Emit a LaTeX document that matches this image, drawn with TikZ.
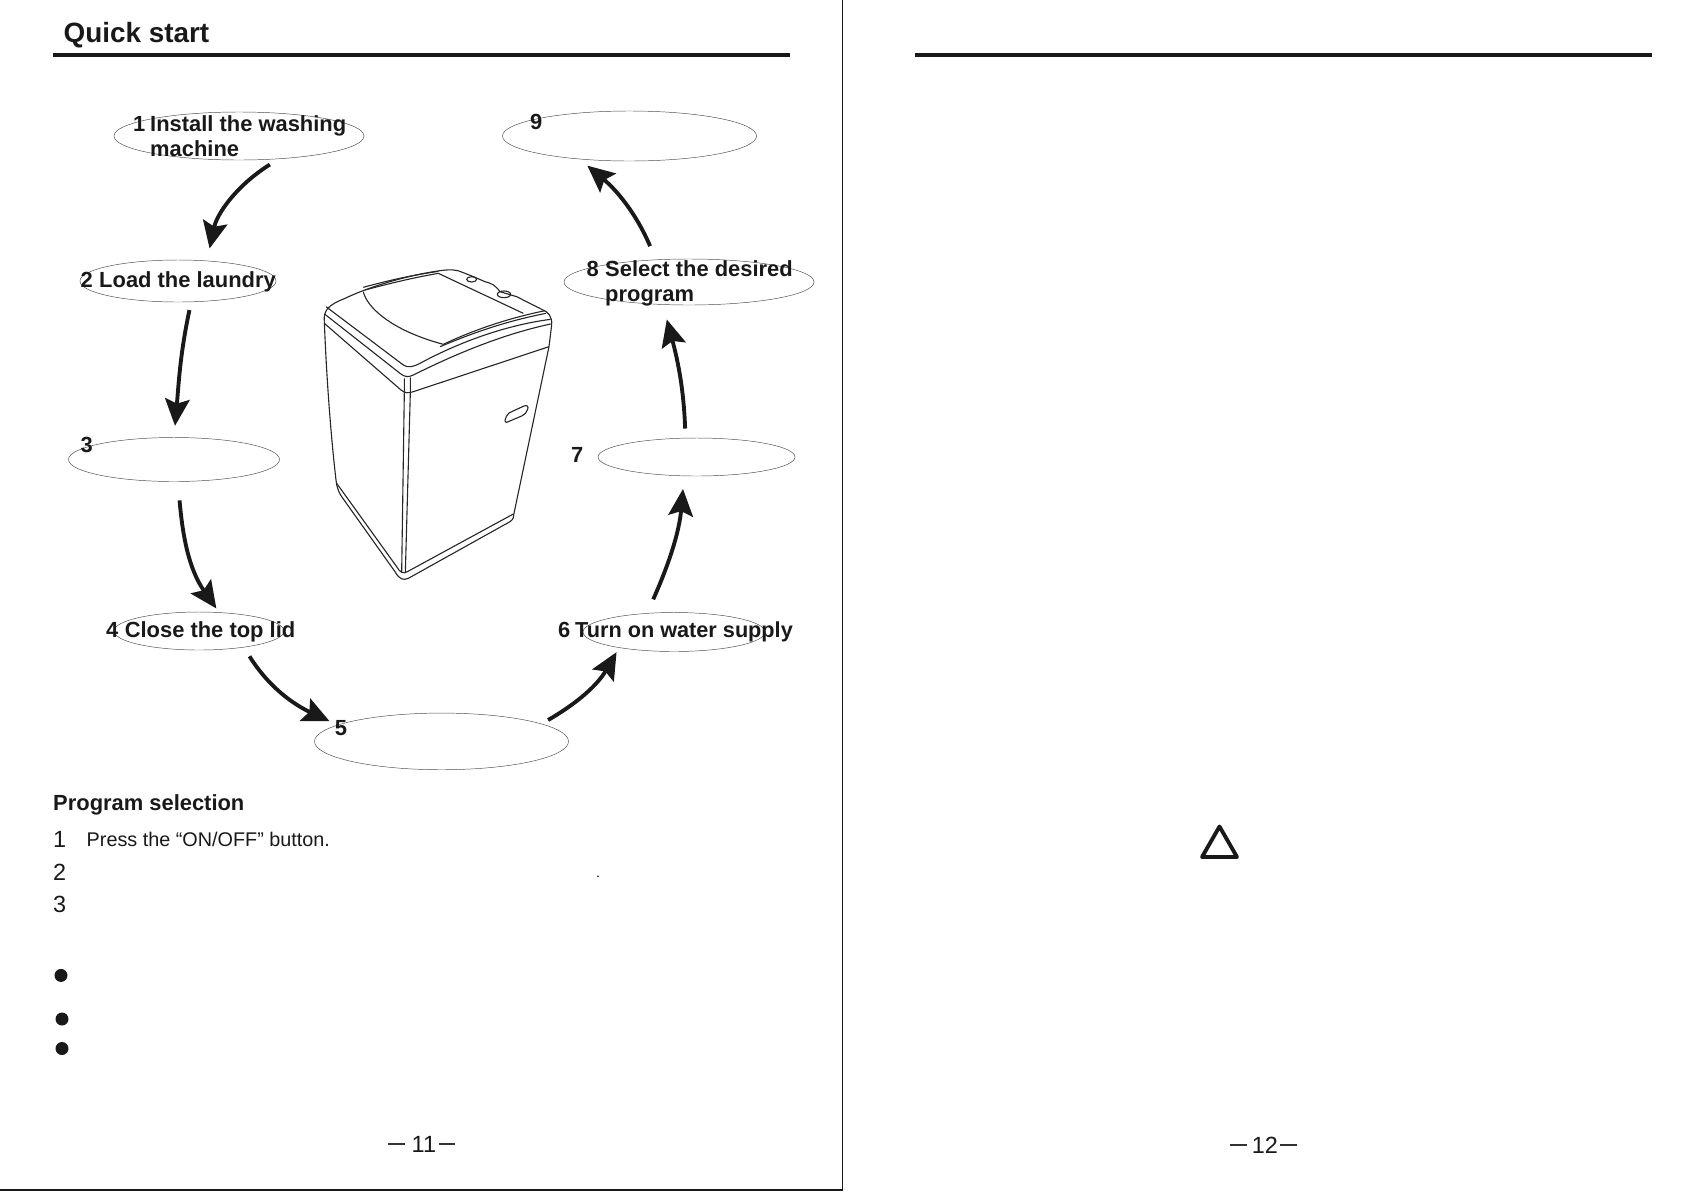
\documentclass[tikz,border=0pt]{standalone}
\usepackage{fontspec}
\setmainfont{Liberation Sans}
\usetikzlibrary{positioning,shapes.geometric,arrows.meta}

\begin{document}
\begin{tikzpicture}[x=0.03cm,y=-0.03cm]
    \tikzstyle{oval}=[ellipse, draw=black!70, line width=0.4pt, inner sep=0pt]
    \tikzstyle{lab}=[anchor=base west, inner sep=0pt, text=black!90, font=\fontsize{18.7}{22}\bfseries\selectfont]
    \tikzstyle{plain}=[anchor=base west, inner sep=0pt, text=black!90, font=\fontsize{16.9}{20}\selectfont]
    \tikzstyle{numb}=[anchor=base west, inner sep=0pt, text=black!90, font=\fontsize{20}{22}\selectfont]
    \tikzstyle{flow}=[line width=3.3pt, black!90, -{Stealth[length=23pt,width=21pt,inset=4pt]}]
    \tikzstyle{hrule}=[line width=3.4pt, black!90]
    \tikzstyle{edge}=[line width=1.1pt, black!90]
    \tikzstyle{bull}=[circle, fill=black!90, inner sep=0pt, minimum size=0.39cm]
    \tikzstyle{tick}=[line width=1.1pt, black!80]
    \tikzstyle{mach}=[line width=0.95pt, black!85, line join=round]
    \useasboundingbox (0,0) rectangle (1684,1191);

    % page frame and header rules
    \coordinate (frameT) at (842.3,0);
    \coordinate (frameC) at (842.3,1190);
    \coordinate (frameL) at (0,1190);
    \draw[edge] (frameT) -- (frameC) -- (frameL);
    \coordinate (ruleA) at (53,55);
    \coordinate (ruleB) at (790,55);
    \coordinate (ruleC) at (915,55);
    \coordinate (ruleD) at (1652,55);
    \draw[hrule] (ruleA) -- (ruleB);
    \draw[hrule] (ruleC) -- (ruleD);
    \node[lab, font=\fontsize{23.8}{28}\bfseries\selectfont] (title) at (63.4,42) {Quick start};

    % the ovals
    \node[oval, minimum width=7.5cm, minimum height=1.44cm] (e1) at (239,136) {};
    \node[oval, minimum width=5.88cm, minimum height=1.26cm] (e2) at (178,281) {};
    \node[oval, minimum width=6.33cm, minimum height=1.32cm] (e3) at (174,459.5) {};
    \node[oval, minimum width=5.1cm, minimum height=1.14cm] (e4) at (199,631) {};
    \node[oval, minimum width=7.62cm, minimum height=1.7cm] (e5) at (441.5,741.4) {};
    \node[oval, minimum width=5.46cm, minimum height=1.17cm] (e6) at (674,632) {};
    \node[oval, minimum width=5.91cm, minimum height=1.14cm] (e7) at (696.5,457) {};
    \node[oval, minimum width=7.5cm, minimum height=1.38cm] (e8) at (689,282) {};
    \node[oval, minimum width=7.62cm, minimum height=1.5cm] (e9) at (629.5,136) {};

    % their texts
    \node[lab] (n1) at (133,131) {1};
    \node[lab] (t1) at (150,131) {Install the washing};
    \node[lab] (t1b) at (150,156) {machine};
    \node[lab] (n2) at (80.5,287) {2};
    \node[lab] (t2) at (99,287) {Load the laundry};
    \node[lab] (n3) at (80.5,452) {3};
    \node[lab] (n4) at (106,637.7) {4};
    \node[lab] (t4) at (124.6,637.7) {Close the top lid};
    \node[lab] (n5) at (334.6,735.7) {5};
    \node[lab] (n6) at (558,637.7) {6};
    \node[lab, font=\fontsize{18.5}{22}\bfseries\selectfont] (t6) at (575,637.7) {Turn on water supply};
    \node[lab] (n7) at (571,462) {7};
    \node[lab] (n8) at (586.5,276) {8};
    \node[lab] (t8) at (605,276) {Select the desired};
    \node[lab] (t8b) at (605,301.5) {program};
    \node[lab] (n9) at (530,129) {9};

    % arrows
    \draw[flow, shorten <=9pt, shorten >=10.7pt] (e1.-30.5) to[out=-148, in=78] (e2.35.6);
    \draw[flow, shorten <=7pt, shorten >=9.8pt] (e2.-58) to[out=-102, in=85] (e3.90);
    \draw[flow, shorten <=16pt, shorten >=4pt] (e3.-80) to[out=-85, in=125] (e4.43);
    \draw[flow, shorten <=9pt, shorten >=7.5pt] (e4.-20.3) to[out=-58, in=155] (e5.171.2);
    \draw[flow, shorten <=6.4pt, shorten >=4.3pt] (e5.10.9) to[out=30, in=240] (e6.196.5);
    \draw[flow, shorten <=12.9pt, shorten >=11pt] (e6.145.4) to[out=66, in=-95] (e7.-123.5);
    \draw[flow, shorten <=8pt, shorten >=13pt] (e7.120) to[out=92, in=-75] (e8.-139.5);
    \draw[flow, shorten <=12.5pt, shorten >=8.5pt] (e8.146) to[out=113, in=-40] (e9.205);

    % washing machine
    \begin{scope}[shift={(300,250)}, xscale=1/3, yscale=1/3]
        % top outline and back edge
        \draw[mach] (73,215) .. controls (70,180) and (85,165) .. (135,145)
            .. controls (220,105) and (330,75) .. (420,62) .. controls (450,58) and (470,58) .. (490,68)
            -- (525,82) -- (555,95) .. controls (575,100) and (585,105) .. (600,125)
            -- (650,140) -- (725,178) .. controls (745,185) and (757,200) .. (755,225) -- (747,290);
        \draw[mach] (190,112) .. controls (270,90) and (340,75) .. (415,64);
        \draw[mach] (195,120) .. controls (270,100) and (340,83) .. (415,70);
        % lid
        \draw[mach] (190,125) .. controls (200,170) and (270,240) .. (430,283);
        \draw[mach] (415,70) -- (670,190);
        \draw[mach] (430,283) .. controls (500,250) and (600,210) .. (735,182);
        \draw[mach] (420,290) .. controls (500,257) and (600,217) .. (738,190);
        % controls
        \draw[mach] (515,88) ellipse (15 and 8);
        \draw[mach] (612,133) ellipse (20 and 10);
        % shoulder lines
        \draw[mach] (78,170) -- (310,345) .. controls (325,355) and (340,350) .. (360,340)
            .. controls (480,275) and (620,225) .. (752,208);
        \draw[mach] (75,193) -- (300,370) .. controls (315,382) and (325,382) .. (340,375)
            .. controls (480,305) and (620,250) .. (752,222);
        % band
        \draw[mach] (73,220) -- (303,420) .. controls (315,430) and (325,430) .. (340,425) -- (747,290);
        % body
        \draw[mach] (73,215) .. controls (80,400) and (95,580) .. (108,690) .. controls (110,710) and (115,725) .. (125,740)
            -- (285,965) .. controls (298,988) and (310,992) .. (325,985) -- (630,815)
            .. controls (640,808) and (642,800) .. (642,790) -- (747,290);
        \draw[mach] (110,700) -- (290,950) .. controls (300,968) and (310,972) .. (322,965) -- (640,792);
        % corner
        \draw[mach] (313,385) -- (313,425) -- (305,968);
        \draw[mach] (331,382) -- (331,428) -- (316,968);
        % handle
        \draw[mach] (620,517) .. controls (612,517) and (615,508) .. (620,498) .. controls (624,490) and (628,488) .. (635,485)
            -- (672,468) .. controls (682,464) and (686,470) .. (683,478) .. controls (680,488) and (674,494) .. (665,498) -- cycle;
    \end{scope}

    % program selection
    \node[lab] (prog) at (53,810.3) {Program selection};
    \node[numb] (s1) at (53,847) {1};
    \node[plain] (s1t) at (86.5,846.5) {Press the “ON/OFF” button.};
    \node[numb] (s2) at (53,880) {2};
    \node[numb] (s3) at (53,912) {3};
    \node[circle, fill=black, inner sep=0pt, minimum size=0.05cm] (spot) at (598,876.3) {};
    \node[bull] (b1) at (61,975.4) {};
    \node[bull] (b2) at (62,1019) {};
    \node[bull] (b3) at (62,1048.5) {};

    % page numbers
    \node[numb] (p11) at (411.5,1152.5) {11};
    \coordinate (d1a) at (388,1144);
    \coordinate (d1b) at (404.5,1144);
    \coordinate (d1c) at (439,1144);
    \coordinate (d1d) at (455,1144);
    \draw[tick] (d1a) -- (d1b);
    \draw[tick] (d1c) -- (d1d);
    \node[numb] (p12) at (1251.5,1153) {12};
    \coordinate (d2a) at (1230,1145);
    \coordinate (d2b) at (1247,1145);
    \coordinate (d2c) at (1280,1145);
    \coordinate (d2d) at (1297,1145);
    \draw[tick] (d2a) -- (d2b);
    \draw[tick] (d2c) -- (d2d);

    % warning sign
    \coordinate (warnA) at (1219.5,826.5);
    \coordinate (warnB) at (1237,857);
    \coordinate (warnC) at (1202,857);
    \draw[line width=3.3pt, black!90, line join=round] (warnA) -- (warnB) -- (warnC) -- cycle;
\end{tikzpicture}
\end{document}
